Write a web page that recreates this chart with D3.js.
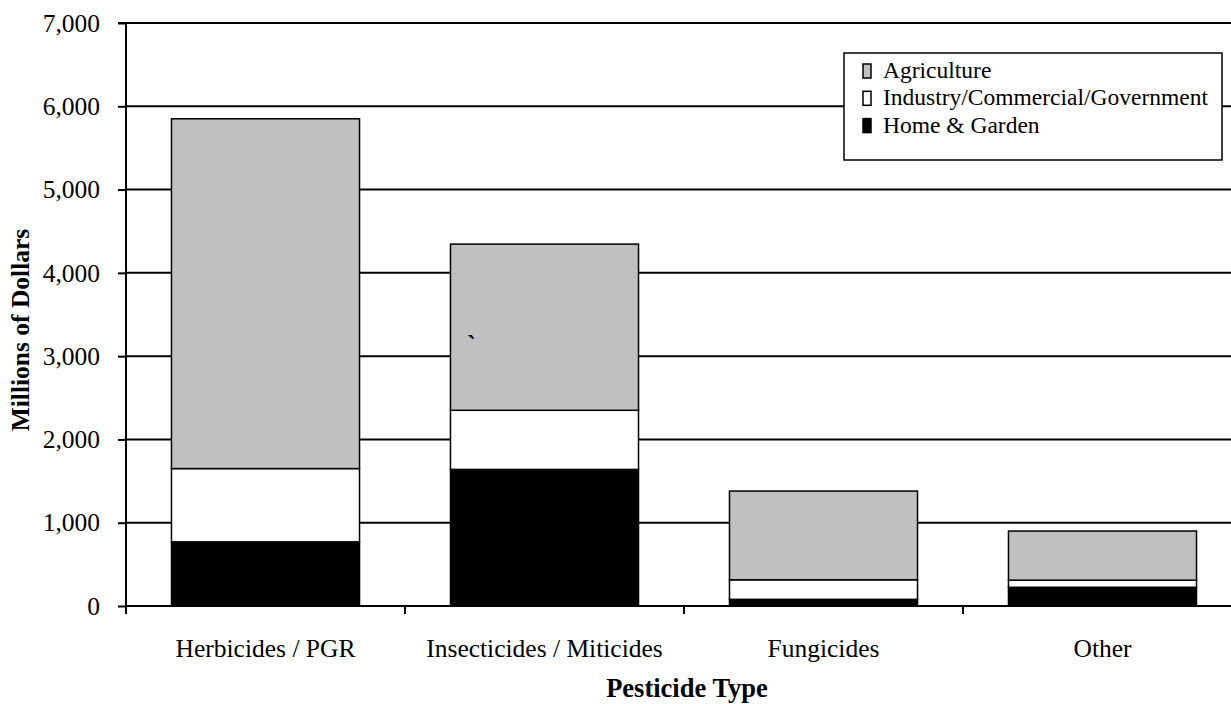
<!DOCTYPE html>
<html>
<head>
<meta charset="utf-8">
<script src="https://cdn.jsdelivr.net/npm/d3@7"></script>
<style>
  body { margin: 0; background: #fff; }
  svg text { font-family: "Liberation Serif", "Times New Roman", serif; fill: #000; }
</style>
</head>
<body>
<div id="chart-area"></div>
<script>
// data (millions of dollars)
const categories = ['Herbicides / PGR', 'Insecticides / Miticides', 'Fungicides', 'Other'];
const homeGarden = [770, 1640, 80, 225];
const industry = [880, 710, 235, 85];
const agriculture = [4200, 1995, 1065, 590];
const yTicks = [0, 1000, 2000, 3000, 4000, 5000, 6000, 7000];
const seriesNames = ['Agriculture', 'Industry/Commercial/Government', 'Home & Garden'];

const serif = '"Liberation Serif", "Times New Roman", serif';
const widthSvg = 1231;
const heightSvg = 704;
const plot = { left: 126, right: 1242, top: 23, bottom: 606 };

const rows = categories.map((c, i) => ({
  category: c,
  home: homeGarden[i],
  industry: industry[i],
  agriculture: agriculture[i]
}));

const keys = ['home', 'industry', 'agriculture'];
const fills = { home: '#000000', industry: '#ffffff', agriculture: '#c0c0c0' };

const svg = d3.select('#chart-area')
  .append('svg')
    .attr('width', widthSvg)
    .attr('height', heightSvg)
    .attr('font-family', serif);

const scaleX = d3.scaleBand()
  .domain(categories)
  .range([plot.left, plot.right])
  .paddingInner(0.326)
  .paddingOuter(0.163);

const scaleY = d3.scaleLinear()
  .domain([0, 7000])
  .range([plot.bottom, plot.top]);

// gridlines
svg.append('g')
  .selectAll('line')
  .data(yTicks.filter(t => t > 0))
  .enter()
  .append('line')
    .attr('x1', plot.left)
    .attr('x2', widthSvg)
    .attr('y1', d => scaleY(d))
    .attr('y2', d => scaleY(d))
    .attr('stroke', '#000')
    .attr('stroke-width', 2);

// stacked bars
const stacked = d3.stack().keys(keys)(rows);

svg.append('g')
  .selectAll('g')
  .data(stacked)
  .enter()
  .append('g')
    .attr('fill', d => fills[d.key])
  .selectAll('rect')
  .data(d => d)
  .enter()
  .append('rect')
    .attr('x', d => scaleX(d.data.category))
    .attr('y', d => scaleY(d[1]))
    .attr('width', scaleX.bandwidth())
    .attr('height', d => scaleY(d[0]) - scaleY(d[1]))
    .attr('stroke', '#000')
    .attr('stroke-width', 1.5);

// stray mark in the original
svg.append('text')
  .attr('x', 467)
  .attr('y', 353)
  .style('font-size', '26px')
  .style('font-weight', 'bold')
  .text('`');

// y axis
const axisY = d3.axisLeft(scaleY)
  .tickValues(yTicks)
  .tickFormat(d3.format(','))
  .tickSize(8)
  .tickPadding(18);

const gY = svg.append('g')
  .attr('transform', `translate(${plot.left},0)`)
  .call(axisY)
  .attr('font-family', serif);
gY.select('.domain').attr('stroke', '#000').attr('stroke-width', 2)
  .attr('d', `M-8,${plot.top}H0V${plot.bottom}`);
gY.selectAll('.tick line').attr('stroke', '#000').attr('stroke-width', 2);
gY.selectAll('.tick text')
  .style('font-size', '25.5px')
  .style('font-family', serif);

// x axis line + boundary ticks
const step = scaleX.step();
svg.append('line')
  .attr('x1', plot.left)
  .attr('x2', widthSvg)
  .attr('y1', plot.bottom)
  .attr('y2', plot.bottom)
  .attr('stroke', '#000')
  .attr('stroke-width', 2);

svg.append('g')
  .selectAll('line')
  .data(d3.range(categories.length + 1))
  .enter()
  .append('line')
    .attr('x1', i => plot.left + i * step)
    .attr('x2', i => plot.left + i * step)
    .attr('y1', plot.bottom)
    .attr('y2', plot.bottom + 8)
    .attr('stroke', '#000')
    .attr('stroke-width', 2);

svg.append('g')
  .selectAll('text')
  .data(categories)
  .enter()
  .append('text')
    .attr('x', d => scaleX(d) + scaleX.bandwidth() / 2)
    .attr('y', 657)
    .attr('text-anchor', 'middle')
    .style('font-size', '25.5px')
    .text(d => d);

// axis titles
svg.append('text')
  .attr('x', 687)
  .attr('y', 697)
  .attr('text-anchor', 'middle')
  .style('font-size', '26.5px')
  .style('font-weight', 'bold')
  .text('Pesticide Type');

svg.append('text')
  .attr('transform', 'translate(29,330) rotate(-90)')
  .attr('text-anchor', 'middle')
  .style('font-size', '25.5px')
  .style('font-weight', 'bold')
  .text('Millions of Dollars');

// legend
const legend = svg.append('g');
legend.append('rect')
  .attr('x', 844)
  .attr('y', 53)
  .attr('width', 378)
  .attr('height', 107)
  .attr('fill', '#fff')
  .attr('stroke', '#000')
  .attr('stroke-width', 1.5);

const legendFills = ['#c0c0c0', '#ffffff', '#000000'];
const items = legend.selectAll('g.item')
  .data(seriesNames)
  .enter()
  .append('g')
    .attr('class', 'item')
    .attr('transform', (d, i) => `translate(0,${78 + i * 27.3})`);

items.append('rect')
  .attr('x', 863)
  .attr('y', -14)
  .attr('width', 8)
  .attr('height', 14)
  .attr('fill', (d, i) => legendFills[i])
  .attr('stroke', '#000')
  .attr('stroke-width', 1.5);

items.append('text')
  .attr('x', 883)
  .attr('y', 0)
  .style('font-size', '23.5px')
  .style('font-family', serif)
  .text(d => d);
</script>
</body>
</html>
